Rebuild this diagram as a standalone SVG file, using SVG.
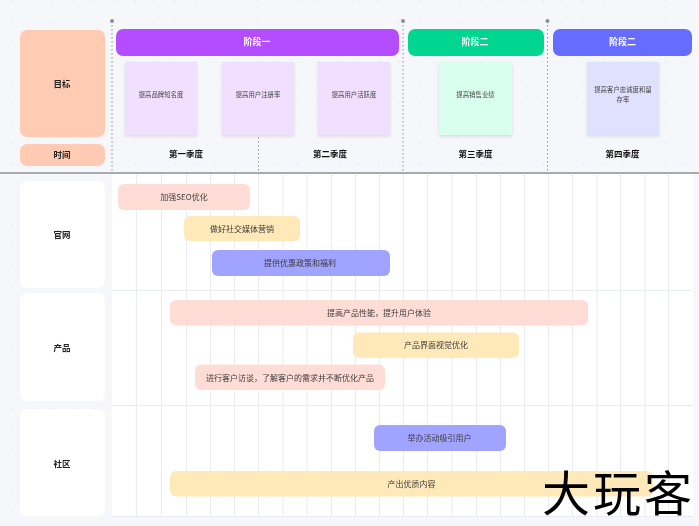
<svg xmlns="http://www.w3.org/2000/svg" width="699" height="526" viewBox="0 0 699 526">
<defs>
<pattern id="dots" width="20.4" height="20.4" patternUnits="userSpaceOnUse" x="1.500" y="0"><circle cx="10.500" cy="0.800" r="0.800" fill="#e3e6ec"/></pattern>
<filter id="sh" x="-10%" y="-10%" width="120%" height="120%"><feDropShadow dx="0" dy="1.500" stdDeviation="1.500" flood-color="#000" flood-opacity="0.12"/></filter>
<filter id="soft" x="0" y="0" width="699" height="526" filterUnits="userSpaceOnUse"><feGaussianBlur stdDeviation="0.300"/></filter>
</defs>
<style>
text{font-family:"Noto Sans CJK SC","Liberation Sans",sans-serif;text-anchor:middle;dominant-baseline:central}
.h{font-size:9px;fill:#fff;font-weight:700}
.l{font-size:8.500px;fill:#222;font-weight:700}
.q{font-size:8.500px;fill:#111;font-weight:700}
.s{font-size:6.400px;fill:#444}
.b{font-size:8px;fill:#3c3c3c}
.g{stroke:#e9ecf2;stroke-width:1;fill:none}
.d{stroke:#8f9299;stroke-width:1;stroke-dasharray:1.500 2.500;fill:none}
.w{fill:#fff}
</style>
<rect width="699" height="526" fill="#f6f7fb"/>
<rect width="699" height="526" fill="url(#dots)"/>
<g filter="url(#soft)">
<g id="grid">
<rect x="112" y="174" width="581" height="342" fill="#fff"/>
<path class="g" d="M136.500 174V516M161.500 174V516M186.500 174V516M210.500 174V516M234.500 174V516M258.500 174V516M283 174V516M307 174V516M331.500 174V516M355.500 174V516M379.500 174V516M403.500 174V516M427.500 174V516M452 174V516M476.500 174V516M500.500 174V516M524.500 174V516M548.500 174V516M572.500 174V516M597 174V516M620.500 174V516M645 174V516M668.500 174V516"/>
<path class="g" d="M112 290.500H691M112 405.500H693M112 516.500H693"/>
</g>
<g id="connectors">
<path d="M0 173H699" stroke="#8d9096" stroke-width="1.600" fill="none"/>
<path class="d" d="M112 21V173M403 21V173M547.500 21V173M258.500 137V173"/>
<circle cx="112" cy="21" r="2" fill="#8d9096"/><circle cx="403" cy="21" r="2" fill="#8d9096"/><circle cx="547.500" cy="21" r="2" fill="#8d9096"/>
</g>
<g id="goal"><rect x="20" y="30" width="85" height="107" rx="7" fill="#ffccb3"/><text class="l" x="62" y="82.500">目标</text></g>
<g id="time"><rect x="20" y="144" width="85" height="22" rx="7" fill="#ffccb3"/><text class="l" x="62" y="154">时间</text></g>
<g id="phase1"><rect x="116" y="29" width="283" height="27" rx="7" fill="#b34dff"/><text class="h" x="257" y="41.500">阶段一</text></g>
<g id="phase2"><rect x="408" y="29" width="136" height="27" rx="7" fill="#00d68f"/><text class="h" x="475" y="41.500">阶段二</text></g>
<g id="phase3"><rect x="553" y="29" width="139" height="27" rx="7" fill="#666cff"/><text class="h" x="622.500" y="41.500">阶段二</text></g>
<g id="goal1"><rect x="125" y="62" width="72" height="73" fill="#f1dfff" filter="url(#sh)"/><text class="s" x="161" y="94">提高品牌知名度</text></g>
<g id="goal2"><rect x="222" y="62" width="72" height="73" fill="#f1dfff" filter="url(#sh)"/><text class="s" x="258" y="94">提高用户注册率</text></g>
<g id="goal3"><rect x="318" y="62" width="72" height="73" fill="#f1dfff" filter="url(#sh)"/><text class="s" x="354" y="94">提高用户活跃度</text></g>
<g id="goal4"><rect x="439" y="62" width="73" height="73" fill="#d9ffee" filter="url(#sh)"/><text class="s" x="475.500" y="94">提高销售业绩</text></g>
<g id="goal5"><rect x="587" y="62" width="72" height="73" fill="#e0e0ff" filter="url(#sh)"/><text class="s" x="623" y="89">提高客户忠诚度和留</text><text class="s" x="623" y="99">存率</text></g>
<g id="q1"><text class="q" x="186" y="152.500">第一季度</text></g>
<g id="q2"><text class="q" x="330" y="152.500">第二季度</text></g>
<g id="q3"><text class="q" x="475.500" y="152.500">第三季度</text></g>
<g id="q4"><text class="q" x="622.500" y="152.500">第四季度</text></g>
<g id="lane1"><rect class="w" x="20" y="181" width="85" height="107" rx="7"/><text class="l" x="62" y="233.500">官网</text></g>
<g id="lane2"><rect class="w" x="20" y="293" width="85" height="108" rx="7"/><text class="l" x="62" y="346.500">产品</text></g>
<g id="lane3"><rect class="w" x="20" y="409" width="85" height="107" rx="7"/><text class="l" x="62" y="462.500">社区</text></g>
<g id="t1"><rect x="118" y="184" width="132" height="26" rx="6" fill="#ffddd6"/><text class="b" x="184" y="196.500">加强SEO优化</text></g>
<g id="t2"><rect x="184" y="216" width="116" height="25" rx="6" fill="#ffe9b8"/><text class="b" x="242" y="228">做好社交媒体营销</text></g>
<g id="t3"><rect x="212" y="250" width="178" height="26" rx="6" fill="#a0a3ff"/><text class="b" x="300" y="262.500">提供优惠政策和福利</text></g>
<g id="t4"><rect x="170" y="300" width="418" height="25.500" rx="6" fill="#ffddd6"/><text class="b" x="379" y="312.500">提高产品性能，提升用户体验</text></g>
<g id="t5"><rect x="353" y="332.500" width="166" height="25.500" rx="6" fill="#ffe9b8"/><text class="b" x="436" y="344.500">产品界面视觉优化</text></g>
<g id="t6"><rect x="195" y="364.500" width="190" height="25.500" rx="6" fill="#ffddd6"/><text class="b" x="290" y="377">进行客户访谈，了解客户的需求并不断优化产品</text></g>
<g id="t7"><rect x="374" y="425" width="132" height="26" rx="6" fill="#a0a3ff"/><text class="b" x="439.500" y="437.500">举办活动吸引用户</text></g>
<g id="t8"><rect x="170" y="471" width="483" height="25.500" rx="6" fill="#ffe9b8"/><text class="b" x="411.500" y="483">产出优质内容</text></g>
<g id="watermark"><text x="618.500" y="489.500" style="font-size:48px;fill:#000;font-weight:400;letter-spacing:3px">大玩客</text></g>
</g>
</svg>
